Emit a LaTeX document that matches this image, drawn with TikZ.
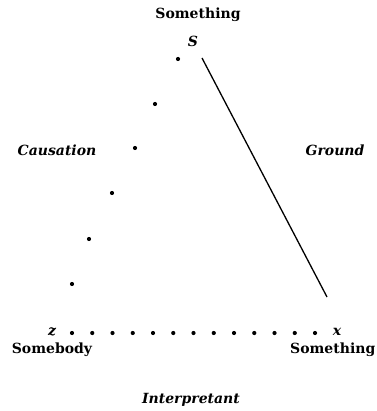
\documentclass[tikz,border=0pt]{standalone}
\usepackage{fontspec}
\setmainfont{DejaVu Serif}
\begin{document}
\begin{tikzpicture}[x=1pt,y=-1pt,
  lbl/.style={font=\fontsize{14}{16}\selectfont\bfseries, inner sep=0pt},
  ilbl/.style={font=\fontsize{14}{16}\selectfont\bfseries\itshape, inner sep=0pt},
  dotm/.style={circle, fill=black, inner sep=0pt, minimum size=4.2pt}]
\useasboundingbox (0,0) rectangle (376,411);
\node[lbl] (top) at (198,15) {Something};
\node[ilbl] (S) at (193,41) {S};
\node[ilbl] (caus) at (57,150) {Causation};
\node[ilbl] (ground) at (335,150) {Ground};
\node[ilbl] (z) at (52,332) {z};
\node[ilbl] (x) at (337,332) {x};
\node[lbl] (somebody) at (52,350) {Somebody};
\node[lbl, anchor=west] (something) at (290,350) {Something};
\node[ilbl] (interp) at (191,400) {Interpretant};
% dotted side S -- z
\foreach \i/\px/\py in {1/178/59, 2/155/104, 3/135/148, 4/112/193, 5/89/239, 6/72/284}
  \node[dotm] (d\i) at (\px,\py) {};
% dotted bottom z -- x
\foreach \i in {0,...,12}
  \node[dotm] (b\i) at ({72+\i*20.25},333) {};
% solid side S -- x
\coordinate (g1) at (202,58);
\coordinate (g2) at (327,297);
\draw[line width=1.3pt] (g1) -- (g2);
\end{tikzpicture}
\end{document}
